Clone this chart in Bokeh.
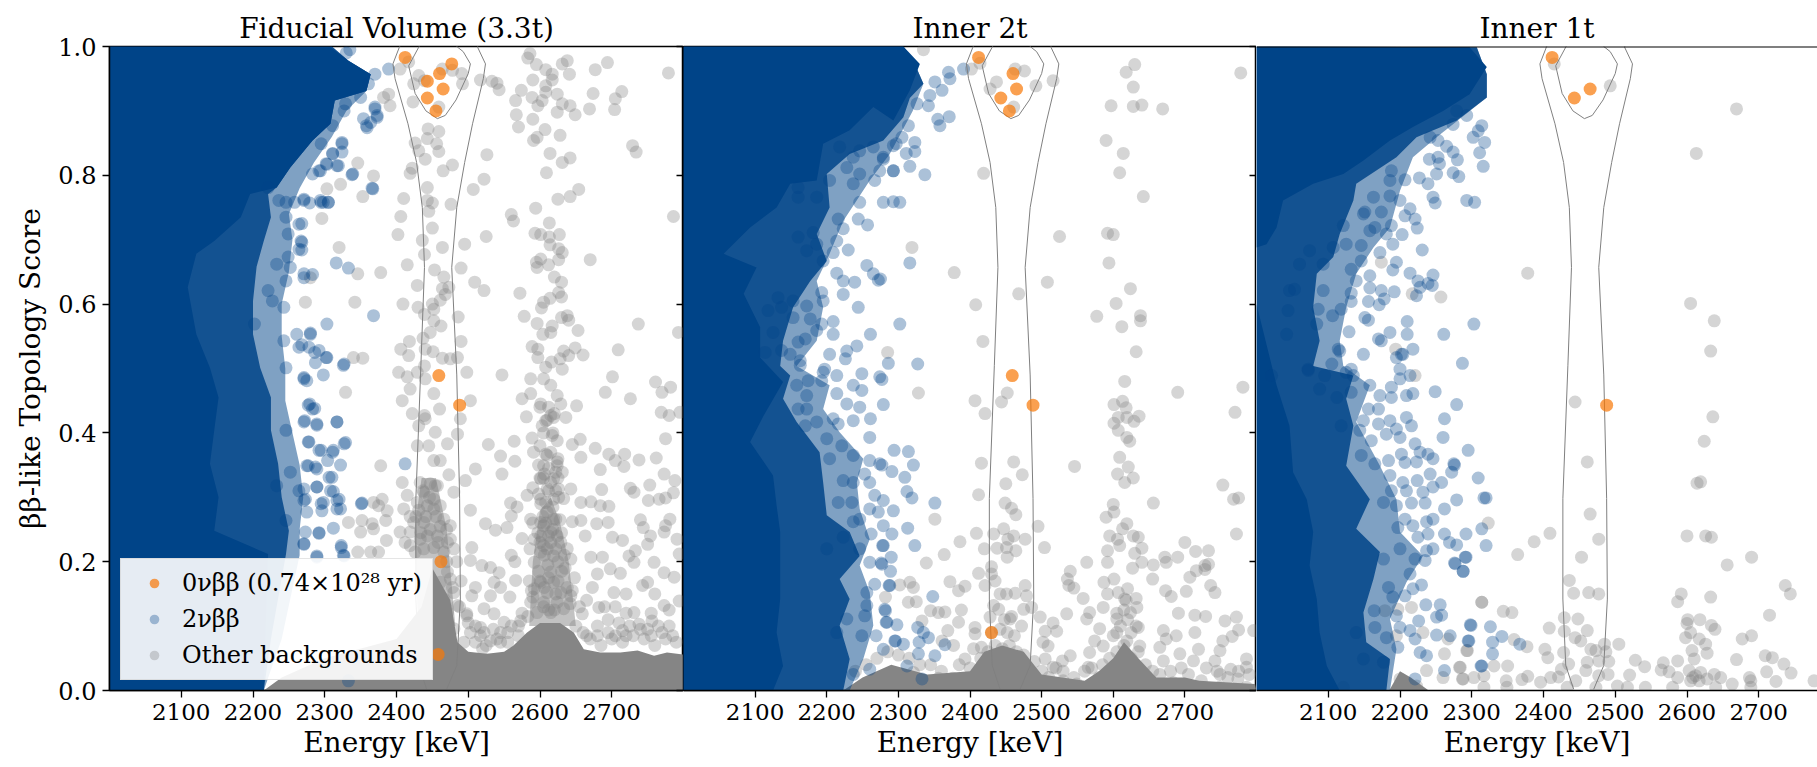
from bokeh.plotting import figure
from bokeh.layouts import row
from bokeh.embed import file_html
from bokeh.resources import INLINE
from bokeh.models import LinearAxis, FixedTicker, Legend, LegendItem, Range1d, NumeralTickFormatter, ColumnDataSource, Span

titles = ["Fiducial Volume (3.3t)", "Inner 2t", "Inner 1t"]
energy_ticks = [2100, 2200, 2300, 2400, 2500, 2600, 2700]
score_ticks = [0.0, 0.2, 0.4, 0.6, 0.8, 1.0]
legend_labels = ["0νββ (0.74×10²⁸ yr)", "2νββ", "Other backgrounds"]

contour_outer = [(2442,.002),(2431,.039),(2427,.142),(2427,.298),(2434,.505),(2439,.657),(2436,.75),(2428,.82),(2416,.88),(2398,.95),(2395,.973),(2404,.999),(2409,1.01),(2515,1.01),(2513,.999),(2524,.973),(2521,.95),(2506,.88),(2495,.82),(2484,.75),(2477,.657),(2484,.49),(2488,.298),(2489,.142),(2484,.039),(2470,.002)]
contour_inner = [(2437,1.01),(2431,.999),(2417,.970),(2426,.927),(2441,.90),(2457,.888),(2468,.893),(2483,.917),(2500,.958),(2503,.973),(2493,.992),(2484,1.0),(2478,1.01)]

signal_fv = [(2412,.983),(2477,.973),(2460,.958),(2443,.946),(2465,.934),(2443,.92),(2455,.90),(2459,.489),(2488,.443),(2462,.20),(2458,.056)]
signal_2t = [(2412,.983),(2460,.958),(2465,.934),(2443,.92),(2455,.90),(2459,.489),(2488,.443),(2430,.09)]
signal_1t = [(2412,.983),(2465,.934),(2443,.92),(2488,.443)]

dense_blue_edge_fv = [(2000,1.0),(2310,1.0),(2333,.978),(2364,.957),(2358,.931),(2330,.90),(2310,.86),(2285,.82),(2265,.78),(2250,.74),(2255,.70),(2250,.65),(2240,.6),(2240,.55),(2245,.5),(2245,.45),(2255,.4),(2265,.35),(2270,.3),(2265,.25),(2265,.21),(2240,.08),(2215,0),(2000,0)]
dense_blue_outer_fv = [(2000,1.0),(2310,1.0),(2333,.978),(2364,.957),(2358,.931),(2314,.916),(2308,.880),(2283,.854),(2252,.812),(2233,.781),(2221,.771),(2225,.735),(2215,.698),(2205,.658),(2200,.605),(2200,.553),(2210,.501),(2225,.455),(2225,.404),(2235,.352),(2240,.300),(2250,.248),(2246,.212),(2225,.08),(2215,0),(2000,0)]
dense_blue_inner_fv = [(2000,1.0),(2308,.999),(2333,.978),(2364,.957),(2358,.931),(2314,.916),(2308,.880),(2283,.854),(2252,.812),(2233,.781),(2196,.771),(2183,.735),(2146,.698),(2121,.678),(2109,.626),(2121,.553),(2140,.501),(2152,.455),(2146,.404),(2140,.352),(2152,.300),(2146,.248),(2221,.212),(2215,0),(2000,0)]
dense_blue_edge_2t = [(2000,1.0),(2307,1.0),(2321,.978),(2335,.942),(2320,.9),(2288,.833),(2260,.792),(2223,.729),(2204,.678),(2186,.636),(2195,.595),(2186,.543),(2158,.504),(2204,.474),(2195,.437),(2218,.401),(2251,.360),(2242,.323),(2246,.282),(2260,.235),(2246,.194),(2260,.152),(2265,.101),(2251,.049),(2232,0),(2000,0)]
dense_blue_outer_2t = [(2000,1.0),(2307,1.0),(2321,.978),(2335,.942),(2316,.92),(2307,.890),(2279,.854),(2232,.833),(2200,.802),(2204,.750),(2186,.709),(2200,.667),(2177,.636),(2153,.595),(2139,.543),(2135,.504),(2149,.489),(2139,.453),(2158,.417),(2190,.370),(2195,.323),(2200,.272),(2232,.246),(2246,.209),(2218,.173),(2232,.142),(2218,.101),(2232,.049),(2223,0),(2000,0)]
dense_blue_inner_2t = [(2000,1.0),(2307,1.0),(2330,.973),(2316,.932),(2293,.885),(2265,.906),(2232,.870),(2195,.849),(2186,.792),(2149,.787),(2130,.750),(2093,.719),(2056,.678),(2102,.657),(2084,.616),(2107,.564),(2107,.517),(2139,.479),(2112,.427),(2093,.386),(2125,.334),(2130,.287),(2135,.246),(2135,.194),(2135,.142),(2130,.090),(2139,.038),(2125,0),(2000,0)]
dense_blue_edge_1t = [(2000,1.0),(2307,.999),(2321,.957),(2321,.921),(2251,.859),(2218,.828),(2200,.776),(2186,.719),(2163,.688),(2139,.647),(2125,.595),(2116,.543),(2121,.504),(2158,.474),(2139,.417),(2172,.349),(2195,.297),(2200,.246),(2232,.209),(2209,.168),(2186,.111),(2195,.064),(2186,0),(2000,0)]
dense_blue_outer_1t = [(2000,1.0),(2307,.999),(2321,.957),(2321,.921),(2279,.885),(2223,.859),(2195,.828),(2139,.787),(2135,.761),(2116,.709),(2107,.673),(2084,.647),(2079,.595),(2088,.543),(2079,.504),(2135,.489),(2125,.453),(2135,.411),(2125,.349),(2158,.297),(2139,.251),(2172,.215),(2163,.173),(2149,.121),(2153,.075),(2186,.049),(2181,0),(2000,0)]
dense_blue_inner_1t = [(2000,1.0),(2297,.999),(2321,.968),(2297,.926),(2260,.900),(2218,.875),(2186,.854),(2149,.823),(2121,.802),(2079,.787),(2037,.761),(2028,.719),(2014,.693),(2000,.688),(2000,.60),(2028,.474),(2046,.411),(2051,.339),(2070,.297),(2079,.246),(2074,.194),(2084,.142),(2088,.090),(2098,.038),(2116,0),(2000,0)]

dense_grey_fv = [(2215,0),(2240,.02),(2300,.05),(2400,.08),(2435,.13),(2450,.19),(2460,.17),(2475,.14),(2485,.075),(2500,.06),(2526,.057),(2550,.06),(2563,.07),(2582,.09),(2600,.105),(2628,.105),(2647,.09),(2661,.064),(2684,.059),(2712,.059),(2736,.062),(2759,.054),(2777,.059),(2800,.056),(2800,0)]
dense_grey_2t = [(2223,0),(2250,.02),(2290,.04),(2340,.025),(2400,.03),(2420,.06),(2445,.07),(2475,.06),(2500,.025),(2560,.015),(2580,.03),(2600,.05),(2615,.075),(2635,.05),(2660,.02),(2700,.02),(2720,.015),(2798,.01),(2800,0)]
dense_grey_1t = [(2185,0),(2200,.03),(2215,.02),(2240,0)]
grey_core_a_fv = [(2585,.10),(2590,.2),(2600,.28),(2615,.3),(2628,.26),(2640,.2),(2650,.10)]
grey_core_b_fv = [(2430,.10),(2425,.25),(2435,.33),(2455,.33),(2470,.25),(2482,.10)]

twonu_fv = [(2335,.995),(2330,.99),(2389,.965),(2370,.957),(2361,.942),(2350,.921),(2329,.911),(2370,.903),(2373,.893),(2354,.888),(2364,.882),(2359,.874),(2324,.851),(2324,.836),(2311,.834),(2319,.815),(2303,.817),(2294,.807),(2338,.801),(2366,.780),(2294,.761),(2298,.758),(2305,.758),(2279,.757),(2271,.763),(2268,.725),(2268,.696),(2268,.684),(2316,.664),(2333,.656),(2271,.647),(2368,.582),(2303,.569),(2280,.555),(2268,.537),(2278,.533),(2292,.528),(2303,.517),(2287,.509),(2327,.507),
(2271,.484),(2275,.481),(2298,.490),(2326,.505),(2279,.445),(2286,.438),(2272,.419),(2289,.412),(2317,.417),(2278,.386),(2295,.373),(2312,.373),(2329,.385),(2412,.352),(2275,.349),(2287,.347),(2304,.357),(2322,.350),(2310,.331),(2289,.316),(2312,.309),(2271,.313),(2273,.297),(2320,.297),(2298,.292),(2352,.291),(2322,.282),(2296,.279),(2275,.277),(2312,.252),(2292,.244),(2273,.246),(2323,.225),(2271,.227),(2289,.209),(2326,.210),(2333,.015),
(2236,.761),(2246,.758),(2271,.761),(2221,.781),(2246,.735),(2264,.724),(2249,.709),(2267,.698),(2264,.685),(2249,.673),(2233,.662),(2252,.657),(2271,.641),(2246,.636),(2221,.621),(2227,.605),(2243,.595),(2202,.569),(2261,.553),(2280,.553),(2243,.543),(2264,.533),(2286,.525),(2302,.517),(2246,.501),(2271,.486),(2283,.646),(2258,.758),(2295,.758),(2305,.758),(2283,.802),(2292,.807),(2302,.818),(2317,.815),(2311,.833),(2324,.849),(2295,.849),(2311,.877),(2339,.802),(2367,.779),(2358,.877),(2370,.906),(2373,.890),(2327,.900),
(2277,.443),(2283,.437),(2317,.417),(2289,.414),(2271,.417),(2246,.404),(2277,.386),(2292,.373),(2311,.370),(2327,.383),(2252,.339),(2277,.349),(2289,.344),(2306,.331),(2233,.318),(2289,.316),(2264,.310),(2308,.310),(2271,.295),(2317,.295),(2295,.290),(2351,.290),(2317,.282),(2246,.264),(2292,.245),(2271,.228),(2323,.222),(2289,.207),(2327,.209)]

other_fv = [(2586,.989),(2583,.982),(2595,.972),(2608,.964),(2631,.973),(2638,.978),(2617,.957),(2641,.957),(2677,.964),(2694,.975),(2779,.959),(2590,.948),(2608,.939),(2608,.929),(2617,.948),(2574,.932),(2566,.916),(2589,.921),(2603,.916),(2624,.926),(2597,.908),(2631,.911),(2642,.908),(2624,.898),(2649,.894),(2674,.927),(2669,.903),(2705,.919),(2714,.930),(2704,.902),(2567,.894),(2590,.887),(2570,.875),(2607,.871),(2591,.854),(2596,.859),(2628,.862),(2614,.834),(2642,.827),(2631,.820),(2609,.804),(2729,.846),(2734,.836),(2654,.778),(2642,.767),(2625,.763),(2594,.749),(2786,.736),(2560,.739),(2563,.729),(2613,.726),(2593,.710),(2601,.708),(2613,.704),(2627,.708),(2614,.692),(2626,.686),(2631,.680),(2626,.669),(2612,.661),(2601,.670),(2595,.665),(2596,.657),(2670,.669),(2620,.642),(2630,.634),(2626,.618),(2630,.611),(2614,.609),(2605,.603),(2602,.594),(2572,.617),(2578,.581),(2596,.570),(2630,.579),(2638,.582),(2640,.575),(2617,.566),(2615,.556),(2604,.553),(2653,.559),(2737,.569),(2793,.556),(2589,.534),(2597,.530),(2597,.517),(2649,.532),(2633,.527),(2640,.520),(2628,.515),(2660,.521),(2709,.529),(2608,.502),(2616,.510),(2631,.499),
(2424,.942),(2431,.955),(2439,.947),(2464,.965),(2491,.958),(2492,.942),(2478,.963),(2417,.976),(2405,.965),(2423,.914),(2459,.906),(2517,.948),(2533,.946),(2540,.943),(2543,.933),(2444,.872),(2459,.868),(2443,.857),(2426,.850),(2431,.838),(2456,.849),(2459,.837),(2440,.825),(2526,.832),(2422,.811),(2419,.803),(2478,.816),(2465,.807),(2522,.794),(2507,.778),(2443,.781),(2410,.764),(2443,.761),(2450,.757),(2445,.744),(2476,.755),(2406,.736),(2450,.718),(2402,.708),(2436,.699),(2464,.688),(2495,.693),(2525,.705),(2439,.677),(2415,.661),(2453,.653),(2490,.656),(2466,.642),(2429,.629),(2509,.634),(2522,.621),(2464,.624),(2473,.626),(2468,.615),(2461,.606),(2450,.600),(2409,.600),(2430,.595),(2452,.592),(2439,.584),(2452,.574),(2486,.580),(2462,.566),(2447,.556),(2490,.542),(2418,.542),(2406,.530),(2437,.547),(2417,.520),(2440,.530),(2451,.526),(2464,.516),(2485,.517),(2475,.515),(2439,.504),(2403,.494),(2429,.494),(2498,.494),(2547,.49),
(2391,.908),(2389,.926),(2382,.921),(2346,.819),(2322,.786),(2303,.779),(2368,.799),(2353,.767),(2296,.733),(2320,.688),(2346,.647),(2378,.649),(2342,.603),(2280,.641),(2273,.603),(2353,.516),(2340,.517),
(2415,.487),(2419,.468),(2408,.450),(2329,.463),(2452,.461),(2440,.484),(2460,.437),(2422,.430),(2439,.427),(2503,.450),(2489,.422),(2587,.484),(2605,.484),(2615,.474),(2575,.453),(2587,.461),(2624,.458),(2601,.445),(2629,.445),(2651,.442),(2581,.425),(2615,.427),(2608,.419),(2619,.424),(2636,.424),(2603,.411),(2701,.487),(2691,.463),(2726,.453),(2761,.479),(2782,.471),(2770,.463),(2769,.432),(2780,.427),(2795,.432),(2775,.391),(2528,.382),(2564,.387),(2589,.392),(2624,.388),(2617,.396),(2656,.390),(2645,.382),(2677,.376),(2545,.364),(2565,.356),(2591,.370),(2608,.367),(2624,.355),(2657,.362),(2696,.367),(2718,.367),(2705,.357),(2738,.358),(2762,.361),(2717,.348),(2684,.343),(2547,.336),(2510,.344),(2496,.326),(2473,.335),(2606,.336),(2622,.339),(2631,.339),(2615,.323),(2773,.336),(2788,.326),(2626,.313),(2643,.313),(2686,.312),(2753,.319),(2726,.314),(2731,.308),(2786,.307),(2766,.297),(2751,.295),(2775,.299),(2582,.303),(2601,.290),(2626,.300),(2633,.298),(2559,.291),(2568,.285),(2657,.292),(2671,.293),(2684,.287),(2696,.286),(2503,.280),(2480,.308),(2454,.318),(2524,.259),(2538,.249),(2554,.253),(2560,.271),(2587,.266),(2601,.261),(2622,.266),(2645,.262),(2657,.264),(2679,.259),(2695,.261),(2740,.265),(2744,.253),(2781,.266),(2775,.256),(2663,.240),(2701,.238),(2715,.233),(2754,.240),(2773,.246),(2791,.235),(2575,.236),(2750,.227),(2560,.210),(2565,.200),(2519,.194),(2531,.191),(2543,.183),(2503,.202),(2505,.222),(2733,.217),(2724,.209),(2759,.199),(2794,.212),(2671,.207),(2687,.207),(2680,.181),(2698,.189),(2712,.182),(2731,.199),(2773,.183),(2787,.176),(2566,.171),(2536,.168),(2545,.160),(2510,.160),(2505,.147),(2531,.147),(2558,.145),(2536,.119),(2522,.127),(2498,.119),(2673,.160),(2659,.119),(2682,.129),(2703,.152),(2743,.163),(2750,.168),(2731,.121),(2715,.093),(2738,.103),(2773,.132),(2756,.108),(2794,.139),(2517,.098),(2573,.108),(2550,.106),(2531,.077),(2545,.090),
(2610,.277),(2619,.266),(2605,.256),(2615,.246),(2624,.240),(2601,.240),(2592,.235),(2615,.230),(2629,.230),(2605,.225),(2638,.220),(2601,.215),(2619,.209),(2643,.204),(2592,.199),(2615,.184),(2601,.168),(2619,.168),(2592,.158),(2610,.152),(2629,.152),(2643,.147),(2587,.137),(2605,.137),(2624,.137),(2596,.121),(2615,.121),(2633,.127),(2608,.292),(2601,.297),(2619,.297),(2610,.313),(2601,.329),(2619,.329),(2605,.349),(2624,.349),(2610,.365),
(2433,.323),(2447,.321),(2457,.318),(2438,.308),(2452,.297),(2461,.287),(2443,.287),(2429,.292),(2452,.282),(2466,.266),(2438,.261),(2424,.261),(2475,.256),(2443,.240),(2457,.240),(2433,.235),(2471,.230),(2419,.225),(2452,.222),(2475,.235),(2438,.220),(2466,.215),(2408,.323),(2415,.303),(2410,.282),(2419,.246),(2405,.246),(2471,.184),(2461,.168),(2475,.173),(2480,.152),(2466,.142),(2485,.132),(2471,.121),(2498,.116),(2466,.101),(2480,.096),(2503,.090),(2494,.075),(2517,.085),
(2440,.422),(2431,.411),(2445,.380),(2429,.380),(2454,.401),(2471,.383),(2485,.398),(2452,.357),(2461,.357),(2368,.292),(2380,.297),(2387,.279),(2375,.287),(2352,.264),(2366,.259),(2385,.264),(2350,.246),(2368,.251),(2386,.233),(2346,.215),(2364,.215),(2375,.215),(2333,.261),(2378,.349)]

other_fv_clusters = [(2600,.38),(2615,.37),(2625,.36),(2605,.33),(2612,.31),(2598,.305),(2622,.31),(2618,.285),(2604,.27),(2590,.26),(2628,.265),(2597,.245),(2612,.24),(2630,.245),(2586,.22),(2606,.21),(2622,.22),(2634,.21),(2598,.185),(2611,.195),(2630,.185),(2648,.175),(2585,.17),(2606,.16),(2622,.15),(2638,.16),(2590,.145),(2612,.125),(2642,.135),(2655,.13),(2575,.12),(2583,.115),(2437,.31),(2446,.30),(2431,.28),(2455,.27),(2441,.27),(2427,.27),(2447,.25),(2461,.255),(2434,.245),(2419,.27),(2412,.23),(2426,.215),(2458,.23),(2470,.25),(2480,.22),(2484,.2),(2470,.2),(2490,.17),(2478,.16),(2488,.13),(2500,.105),(2510,.10),(2522,.09),(2535,.095),(2555,.09),(2570,.085),(2660,.09),(2670,.08),(2685,.07),(2700,.08),(2715,.075),(2730,.085),(2745,.08),(2760,.07),(2775,.08),(2790,.075),(2680,.1),(2695,.11),(2710,.105),(2725,.1),(2750,.095),(2765,.1),(2780,.1),(2560,.1),(2525,.07),(2545,.075),
(2510,.075),(2520,.065),(2540,.08),(2555,.075),(2570,.1),(2650,.1),(2665,.085),(2680,.085),(2695,.09),(2705,.085),(2720,.085),(2740,.095),(2755,.085),(2770,.09),(2785,.085),(2690,.13),(2705,.13),(2720,.12),(2755,.12),(2780,.125),(2665,.14),(2720,.15),(2760,.15),(2600,.44),(2612,.44),(2620,.43),(2610,.42),(2605,.40),(2618,.40),(2625,.33),(2598,.35),(2612,.345),(2600,.33),(2590,.315),(2608,.26),(2618,.25),(2600,.23),(2610,.22),(2625,.2),(2635,.19),(2600,.17),(2612,.175),(2625,.17),(2588,.155),(2645,.155),(2605,.13),(2620,.125)]

twonu_2t = [(2391,.965),(2370,.960),(2372,.950),(2351,.945),(2361,.932),(2344,.924),(2326,.911),(2342,.908),(2355,.887),(2371,.891),(2358,.877),(2314,.877),(2305,.859),(2323,.851),(2293,.846),(2323,.837),(2311,.834),(2279,.825),(2293,.807),(2316,.814),(2337,.801),(2279,.758),(2293,.759),(2302,.758),(2316,.664),(2275,.639),(2302,.569),(2286,.508),(2327,.507),
(2279,.444),(2277,.483),(2294,.373),(2314,.371),(2321,.350),(2277,.350),(2291,.340),(2309,.331),(2312,.309),(2319,.299),(2279,.295),(2351,.291),(2293,.279),(2279,.256),(2313,.252),(2291,.243),(2323,.225),(2279,.225),(2290,.207),(2277,.196),(2289,.185),(2288,.163),(2348,.146),(2282,.124),(2284,.106),(2298,.102),(2327,.098),(2335,.090),(2342,.082),(2296,.077),(2329,.075),(2307,.072),(2365,.071),(2279,.064),(2328,.057),(2351,.054),(2312,.038),(2333,.018),
(2293,.807),(2246,.758),(2244,.732),(2257,.723),(2216,.732),(2223,.717),(2214,.698),(2230,.684),(2195,.667),(2209,.680),(2181,.711),(2160,.704),(2186,.693),(2172,.683),(2214,.648),(2256,.660),(2265,.647),(2272,.637),(2239,.634),(2223,.636),(2223,.615),(2193,.618),(2195,.605),(2172,.597),(2153,.605),(2132,.610),(2137,.595),(2118,.590),(2244,.595),(2177,.577),(2153,.579),(2209,.573),(2186,.559),(2209,.553),(2193,.569),(2160,.541),(2170,.546),(2137,.528),(2149,.522),(2163,.512),(2204,.522),(2228,.527),(2242,.535),(2226,.515),(2261,.553),(2197,.499),(2125,.556),(2114,.525),(2267,.792),(2274,.807),(2237,.787),(2246,.802),(2204,.792),(2228,.812),(2160,.781),(2160,.766),(2186,.766),(2246,.838),(2279,.828),(2297,.849),(2265,.844),(2218,.844),(2237,.828),
(2163,.505),(2195,.494),(2249,.492),(2274,.487),(2174,.481),(2193,.481),(2214,.489),(2237,.474),(2249,.466),(2158,.474),(2172,.458),(2214,.461),(2228,.445),(2246,.440),(2160,.437),(2172,.437),(2186,.417),(2209,.422),(2216,.414),(2237,.419),(2261,.422),(2170,.411),(2200,.391),(2260,.393),(2221,.380),(2237,.365),(2204,.360),(2274,.352),(2260,.357),(2253,.336),(2237,.323),(2260,.323),(2223,.326),(2267,.303),(2235,.292),(2216,.292),(2260,.282),(2272,.277),(2246,.266),(2237,.262),(2262,.243),(2223,.238),(2246,.220),(2278,.225),(2200,.220),(2260,.199),(2276,.198),(2267,.165),(2287,.163),(2256,.152),(2281,.126),(2256,.132),(2253,.116),(2228,.111),(2283,.106),(2249,.085),(2269,.085),(2295,.077),(2214,.090),(2260,.033),(2237,.025)]

other_2t = [(2335,.995),(2414,.974),(2402,.965),(2463,.965),(2476,.962),(2437,.945),(2428,.934),(2492,.939),(2516,.947),(2461,.906),(2630,.972),(2618,.960),(2628,.937),(2597,.908),(2628,.907),(2640,.909),(2669,.903),(2778,.959),(2590,.854),(2614,.834),(2609,.804),(2642,.767),(2419,.803),(2592,.710),(2600,.708),(2525,.705),(2319,.688),(2594,.664),(2378,.649),(2508,.634),(2468,.616),(2624,.624),(2604,.601),(2408,.599),(2577,.581),(2638,.582),(2638,.574),(2612,.565),(2418,.542),(2632,.526),(2285,.525),
(2616,.480),(2328,.462),(2407,.450),(2452,.462),(2444,.448),(2421,.430),(2690,.463),(2781,.471),(2770,.432),(2601,.444),(2613,.449),(2618,.439),(2607,.424),(2619,.424),(2636,.426),(2629,.418),(2601,.415),(2607,.404),(2619,.393),(2623,.387),(2609,.362),(2621,.347),(2606,.336),(2628,.330),(2616,.323),(2416,.353),(2461,.355),(2546,.348),(2473,.335),(2450,.321),(2412,.304),(2753,.319),(2656,.291),(2768,.297),(2775,.299),(2449,.291),(2458,.283),(2464,.273),(2351,.266),(2600,.289),(2601,.277),(2590,.269),(2495,.255),(2619,.259),(2613,.251),(2409,.244),(2386,.231),(2433,.243),(2447,.251),(2461,.240),(2453,.235),(2477,.235),(2595,.240),(2606,.235),(2628,.240),(2635,.238),(2772,.243),(2700,.230),(2420,.220),(2438,.221),(2451,.222),(2464,.217),(2504,.222),(2592,.217),(2609,.225),(2640,.221),(2630,.213),(2715,.216),(2733,.217),(2364,.211),(2452,.207),(2339,.198),(2563,.199),(2592,.199),(2640,.199),(2656,.195),(2672,.207),(2674,.199),(2690,.207),(2728,.194),(2733,.196),(2716,.186),(2627,.190),(2430,.192),(2412,.182),(2430,.181),(2540,.185),(2728,.188),(2707,.176),(2536,.173),(2435,.170),(2372,.169),(2601,.173),(2587,.168),(2655,.173),(2538,.163),(2545,.159),(2316,.168),(2321,.160),(2302,.164),(2393,.162),(2384,.155),(2421,.163),(2477,.163),(2620,.158),(2736,.163),(2742,.152),(2673,.155),(2702,.154),(2681,.146),(2442,.150),(2451,.150),(2463,.151),(2592,.150),(2607,.152),(2558,.143),(2632,.143),(2616,.142),(2282,.145),(2314,.137),(2325,.138),(2479,.147),(2345,.124),(2356,.121),(2365,.122),(2388,.125),(2433,.132),(2440,.126),(2475,.126),(2486,.129),(2563,.111),(2567,.121),(2586,.129),(2633,.129),(2624,.121),(2605,.111),(2535,.119),(2691,.120),(2714,.117),(2729,.115),(2756,.108),(2772,.114),(2384,.106),(2428,.114),(2456,.111),(2498,.114),(2516,.105),(2581,.096),(2635,.098),(2670,.093),(2407,.098),(2369,.093),(2333,.108),(2407,.088),(2505,.092),(2521,.092),(2714,.090),(2775,.094),(2796,.093),(2766,.084),(2688,.085),(2361,.077),(2377,.070),(2574,.077),(2674,.080),(2753,.077),(2509,.069),(2502,.075),(2405,.065),(2416,.067),(2586,.069),(2605,.090),(2619,.077),(2637,.069),(2665,.067),(2719,.064),(2749,.062),(2393,.049),(2505,.049),(2540,.054),(2529,.046),(2567,.059),(2693,.057),(2742,.046),(2786,.049),(2712,.046),(2516,.036),(2565,.036),(2670,.046),(2764,.033),(2786,.036),(2376,.019),(2356,.019),(2321,.028),(2530,.015),(2723,.015),(2774,.018),(2749,.025),(2684,.012),(2786,.005),(2749,.005),(2507,.007),(2549,.010)]

other_2t_clusters = [(2425,.06),(2435,.07),(2445,.065),(2455,.07),(2465,.06),(2475,.055),(2430,.09),(2442,.095),(2452,.09),(2462,.085),(2472,.1),(2448,.11),(2458,.115),(2415,.05),(2490,.045),(2500,.03),(2510,.02),(2520,.035),(2585,.04),(2595,.05),(2605,.06),(2615,.07),(2625,.05),(2635,.06),(2645,.04),(2655,.03),(2600,.085),(2610,.1),(2620,.11),(2615,.125),(2625,.09),(2605,.12),(2618,.14),(2632,.1),(2570,.035),(2580,.02),(2665,.025),(2680,.03),(2695,.035),(2705,.025),(2730,.035),(2745,.03),(2760,.02),(2775,.03),(2790,.025),(2240,.03),(2255,.04),(2270,.05),(2285,.06),(2300,.055),(2315,.05),(2330,.04),(2345,.04),(2360,.03),(2385,.04),(2400,.035),(2410,.02),(2530,.03),(2545,.02),(2560,.03)]

twonu_1t = [(2316,.814),(2311,.835),(2302,.859),(2309,.869),(2314,.877),(2318,.851),(2274,.879),(2293,.893),(2279,.900),(2253,.854),(2242,.859),(2265,.845),(2274,.836),(2280,.824),(2241,.825),(2253,.828),(2255,.818),(2251,.802),(2274,.804),(2282,.798),(2227,.796),(2239,.787),(2207,.793),(2246,.766),(2249,.757),(2293,.761),(2304,.758),(2188,.807),(2186,.792),(2186,.768),(2200,.761),(2214,.748),(2207,.737),(2221,.732),(2224,.718),(2163,.766),(2149,.740),(2151,.743),(2174,.743),(2188,.722),(2203,.708),(2181,.709),(2190,.693),(2231,.684),(2172,.680),(2146,.691),(2125,.693),(2158,.714),(2165,.719),(2195,.665),(2190,.653),(2146,.667),(2132,.654),(2158,.644),(2139,.636),(2214,.648),(2246,.645),(2225,.636),(2239,.632),(2245,.629),(2228,.626),(2158,.625),(2174,.621),(2192,.619),(2132,.617),(2223,.613),(2132,.604),(2156,.604),(2178,.608),(2171,.599),(2118,.592),(2106,.582),(2151,.579),(2156,.575),(2210,.573),(2303,.569),(2129,.557),(2186,.556),(2210,.553),(2261,.553),(2170,.546),(2174,.543),(2114,.530),(2149,.522),(2218,.530),(2202,.522),(2204,.522),(2195,.517),(2287,.508),(2200,.499),(2105,.507),(2072,.499),(2132,.499),(2046,.621),(2093,.621),(2044,.590),(2086,.592),(2060,.662),(2093,.662),(2053,.623),(2074,.683),(2121,.722),(2107,.688),(2042,.553),(2084,.569),(2116,.527),
(2021,.489),(2072,.497),(2095,.489),(2125,.494),(2135,.489),(2088,.468),(2112,.455),(2132,.463),(2158,.474),(2172,.458),(2188,.455),(2188,.471),(2200,.484),(2214,.489),(2209,.458),(2218,.461),(2249,.464),(2279,.444),(2156,.437),(2170,.437),(2209,.424),(2216,.411),(2262,.422),(2149,.419),(2170,.414),(2186,.419),(2195,.406),(2181,.398),(2144,.404),(2260,.393),(2200,.393),(2160,.388),(2221,.383),(2118,.411),(2295,.373),(2146,.365),(2202,.367),(2228,.370),(2239,.367),(2246,.360),(2207,.354),(2223,.355),(2184,.357),(2165,.352),(2275,.352),(2242,.336),(2272,.339),(2309,.330),(2186,.334),(2204,.323),(2224,.326),(2258,.323),(2246,.316),(2209,.310),(2232,.308),(2188,.310),(2279,.296),(2317,.299),(2216,.291),(2235,.291),(2177,.292),(2262,.282),(2195,.287),(2207,.266),(2246,.266),(2237,.262),(2218,.256),(2197,.253),(2262,.243),(2292,.243),(2314,.251),(2225,.238),(2239,.243),(2269,.230),(2279,.226),(2320,.225),(2200,.220),(2246,.220),(2237,.217),(2221,.204),(2292,.207),(2276,.198),(2288,.185),(2235,.202),(2214,.181),(2177,.204),(2230,.164),(2184,.160),(2218,.158),(2207,.147),(2190,.145),(2236,.133),(2256,.133),(2164,.124),(2258,.117),(2251,.114),(2195,.116),(2226,.108),(2299,.101),(2165,.098),(2200,.098),(2214,.093),(2181,.082),(2251,.086),(2270,.085),(2221,.080),(2295,.077),(2197,.067),(2228,.059),(2237,.054),(2177,.044),(2262,.031),(2314,.038),(2221,.018),(2149,.049),(2139,.090),
(2276,.350),(2320,.299),(2298,.102),(2326,.099),(2342,.084),(2296,.077),(2329,.075),(2367,.072),(2329,.057),(2313,.038),(2291,.207),(2277,.197),(2288,.185)]

other_1t = [(2415,.973),(2493,.939),(2669,.903),(2613,.834),(2378,.648),(2605,.601),(2638,.574),(2633,.527),(2257,.611),(2174,.665),(2217,.616),(2194,.530),(2221,.489),
(2444,.448),(2636,.425),(2624,.387),(2461,.355),(2614,.322),(2619,.324),(2465,.274),(2323,.260),(2409,.244),(2387,.231),(2477,.235),(2600,.240),(2626,.240),(2634,.238),(2364,.211),(2453,.207),(2690,.207),(2656,.195),(2436,.171),(2737,.163),(2744,.150),(2442,.151),(2463,.152),(2477,.150),(2592,.150),(2587,.138),(2633,.145),(2314,.137),(2344,.123),(2356,.121),(2715,.117),(2429,.113),(2448,.111),(2408,.097),(2429,.092),(2461,.093),(2601,.110),(2600,.104),(2618,.110),(2634,.101),(2639,.095),(2605,.090),(2598,.082),(2617,.080),(2677,.080),(2690,.085),(2359,.079),(2377,.068),(2444,.082),(2452,.077),(2505,.072),(2485,.072),(2466,.064),(2402,.064),(2406,.051),(2428,.059),(2487,.060),(2473,.062),(2607,.062),(2626,.072),(2628,.058),(2610,.049),(2669,.048),(2709,.054),(2719,.051),(2528,.047),(2541,.037),(2567,.043),(2587,.046),(2735,.041),(2745,.027),(2711,.029),(2724,.014),(2777,.015),(2350,.038),(2331,.038),(2284,.036),(2294,.062),(2287,.018),(2303,.020),(2317,.023),(2348,.015),(2370,.017),(2378,.022),(2396,.013),(2410,.020),(2421,.021),(2435,.041),(2425,.033),(2445,.015),(2461,.044),(2459,.031),(2477,.046),(2491,.045),(2490,.025),(2477,.023),(2520,.024),(2503,.007),(2517,.005),(2542,.005),(2564,.032),(2575,.029),(2587,.020),(2603,.031),(2608,.020),(2612,.023),(2617,.015),(2628,.018),(2638,.025),(2647,.020),(2663,.010),(2687,.020),(2689,.015),(2580,.005),(2640,.005),(2689,.005),(2433,.005),(2473,.005),(2317,.005),(2349,.005),(2605,.015),(2619,.028),
(2200,.018),(2223,.007),(2237,.031),(2260,.020),(2283,.036),(2288,.018),(2262,.057),(2293,.062),(2267,.080),(2232,.090),(2314,.137),(2216,.129),(2197,.126),(2179,.124),(2195,.085),(2121,.005)]

BLUE = "#004488"
GREY = "#808080"
ORANGE = "#F87705"
FONT = "DejaVu Serif"
FRAME_H = 644
PX_PER_KEV = 0.7175
MARK = 13


def cols(pairs):
    return dict(x=[a for a, _ in pairs], y=[b for _, b in pairs])


def panel(title, signal, twonu, other, blue_edge, blue_outer, blue_inner, grey_dense, frame_w, xmax, ylabel=False, right_ticks=True, legend=False, grey_core=()):
    left = 109 if ylabel else 0
    p = figure(width=frame_w + left, height=767, frame_width=frame_w, frame_height=FRAME_H,
               output_backend="svg", toolbar_location=None,
               x_range=Range1d(2000, xmax), y_range=Range1d(0, 1), title=title, x_axis_label="Energy [keV]",
               min_border_left=left, min_border_right=0, min_border_top=46, min_border_bottom=77)
    p.grid.visible = False
    p.background_fill_color = "white"
    p.outline_line_color = "black" if right_ticks else None
    p.outline_line_width = 1.5
    p.title.text_font = FONT
    p.title.text_font_size = "28px"
    p.title.text_font_style = "normal"
    p.title.text_color = "black"
    p.title.align = "center"
    p.title.offset = 0
    p.title.standoff = 4

    xa = p.xaxis[0]
    xa.ticker = FixedTicker(ticks=energy_ticks)
    xa.major_label_text_font = FONT
    xa.major_label_text_font_size = "23px"
    xa.major_label_text_color = "black"
    xa.major_label_standoff = 6
    xa.major_tick_in = 0
    xa.major_tick_out = 7
    xa.major_tick_line_width = 1.3
    xa.major_tick_line_color = "black"
    xa.minor_tick_line_color = None
    xa.axis_line_width = 1.5
    xa.axis_line_color = "black"
    xa.axis_label_text_font = FONT
    xa.axis_label_text_font_size = "28px"
    xa.axis_label_text_font_style = "normal"
    xa.axis_label_text_color = "black"
    xa.axis_label_standoff = 3

    ya = p.yaxis[0]
    ya.ticker = FixedTicker(ticks=score_ticks)
    ya.formatter = NumeralTickFormatter(format="0.0")
    ya.major_tick_in = 0
    ya.minor_tick_line_color = None
    ya.axis_line_width = 1.5
    ya.axis_line_color = "black"
    if ylabel:
        ya.major_tick_out = 7
        ya.major_tick_line_width = 1.3
        ya.major_tick_line_color = "black"
        ya.major_label_text_font = FONT
        ya.major_label_text_font_size = "24px"
        ya.major_label_text_color = "black"
        ya.major_label_standoff = 6
        ya.axis_label = "ββ-like Topology Score"
        ya.axis_label_text_font = FONT
        ya.axis_label_text_font_size = "28px"
        ya.axis_label_text_font_style = "normal"
        ya.axis_label_text_color = "black"
        ya.axis_label_standoff = 8
    else:
        ya.visible = False

    if right_ticks:
        ra = LinearAxis(ticker=FixedTicker(ticks=score_ticks), major_label_overrides={t: "" for t in score_ticks},
                        major_label_text_font_size="1px", major_label_standoff=0, axis_line_color="black",
                        major_tick_in=7, major_tick_out=0, major_tick_line_width=1.3, major_tick_line_color="black",
                        minor_tick_line_color=None, axis_line_width=1.5)
        p.add_layout(ra, "right")
    else:
        p.add_layout(Span(location=1.0, dimension="width", line_color="black", line_width=2))

    for core in grey_core:
        p.patch([a for a, _ in core], [b for _, b in core], color="#858585", alpha=0.5, line_color=None)
    grey_r = p.scatter("x", "y", source=ColumnDataSource(cols(other)), size=MARK, color=GREY, alpha=0.33, line_color=None)
    p.patch([a for a, _ in grey_dense], [b for _, b in grey_dense], color="#858585", line_color=None)
    p.patch([a for a, _ in blue_edge], [b for _, b in blue_edge], color=BLUE, alpha=0.5, line_color=None)
    p.patch([a for a, _ in blue_outer], [b for _, b in blue_outer], color=BLUE, alpha=0.85, line_color=None)
    p.patch([a for a, _ in blue_inner], [b for _, b in blue_inner], color=BLUE, line_color=None)
    blue_r = p.scatter("x", "y", source=ColumnDataSource(cols(twonu)), size=MARK, color=BLUE, alpha=0.33, line_color=None)
    for c in (contour_outer, contour_inner):
        p.line([a for a, _ in c], [b for _, b in c], line_color="#808080", line_width=1)
    sig_r = p.scatter("x", "y", source=ColumnDataSource(cols(signal)), size=MARK, color=ORANGE, alpha=0.7, line_color=None)

    if legend:
        lg = Legend(items=[LegendItem(label=legend_labels[0], renderers=[sig_r]),
                           LegendItem(label=legend_labels[1], renderers=[blue_r]),
                           LegendItem(label=legend_labels[2], renderers=[grey_r])],
                    location=(11, 10), label_text_font=FONT, label_text_font_size="24px", label_text_color="black",
                    background_fill_alpha=0.9, border_line_color="#cccccc", border_line_width=1,
                    spacing=8, padding=10, margin=0, glyph_width=46, glyph_height=24, label_standoff=5, label_height=24)
        p.add_layout(lg, "center")
    return p


p1 = panel(titles[0], signal_fv, twonu_fv, other_fv + other_fv_clusters, dense_blue_edge_fv, dense_blue_outer_fv, dense_blue_inner_fv, dense_grey_fv,
           574, 2800, ylabel=True, legend=True, grey_core=(grey_core_a_fv, grey_core_b_fv))
p2 = panel(titles[1], signal_2t, twonu_2t, other_2t + other_2t_clusters, dense_blue_edge_2t, dense_blue_outer_2t, dense_blue_inner_2t, dense_grey_2t,
           573, 2800)
p3_w = 1817 - 1256
p3 = panel(titles[2], signal_1t, twonu_1t, other_1t, dense_blue_edge_1t, dense_blue_outer_1t, dense_blue_inner_1t, dense_grey_1t,
           p3_w, 2000 + p3_w / PX_PER_KEV, right_ticks=False)
layout = row(p1, p2, p3)
open("out.html", "w").write(file_html(layout, INLINE))
